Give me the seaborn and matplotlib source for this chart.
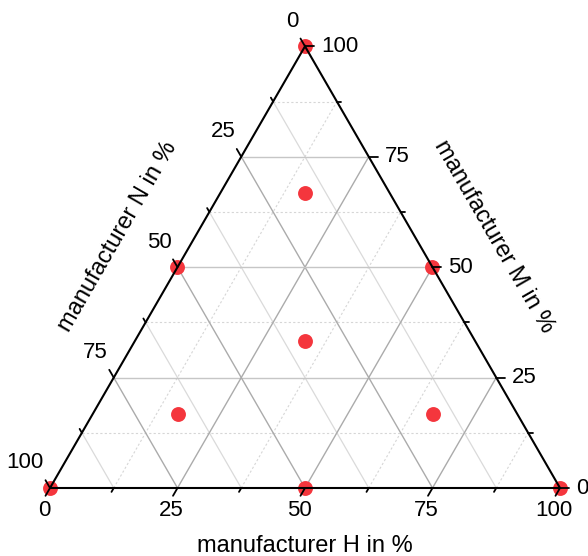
import numpy as np
import pandas as pd
import seaborn as sns
import matplotlib.pyplot as plt

# mixture design points, percent of each manufacturer
manufacturer_h = [0, 16.7, 0, 50, 33.3, 16.7, 66.7, 0, 50, 100]
manufacturer_m = [100, 66.7, 50, 50, 33.3, 16.7, 16.7, 0, 0, 0]
manufacturer_n = [0, 16.7, 50, 0, 33.3, 66.7, 16.7, 100, 50, 0]

major_ticks = [0, 25, 50, 75, 100]
minor_ticks = [12.5, 37.5, 62.5, 87.5]
tick_labels = ['0', '25', '50', '75', '100']

h_title = 'manufacturer H in %'
m_title = 'manufacturer M in %'
n_title = 'manufacturer N in %'

SQ = np.sqrt(3) / 2
PX = 1 / 510  # one pixel in data units


def to_xy(h, m):
    h = np.asarray(h, dtype=float) / 100
    m = np.asarray(m, dtype=float) / 100
    return h + m / 2, m * SQ


sns.set_style('white', rc={'text.color': 'black'})
plt.rcParams['font.family'] = ['Liberation Sans', 'DejaVu Sans']

fig = plt.figure(figsize=(5.88, 5.56), dpi=100)
ax = fig.add_axes([0, 0, 1, 1])
ax.set_xlim(-50 * PX, 538 * PX)
ax.set_ylim(-68 * PX, 488 * PX)
ax.axis('off')

# grid lines
def grid_line(v, kind, **kw):
    if kind == 'm':
        p0, p1 = to_xy(0, v), to_xy(100 - v, v)
    elif kind == 'h':
        p0, p1 = to_xy(v, 0), to_xy(v, 100 - v)
    else:
        p0, p1 = to_xy(100 - v, 0), to_xy(0, 100 - v)
    ax.plot([p0[0], p1[0]], [p0[1], p1[1]], zorder=1, **kw)

for v in minor_ticks:
    grid_line(v, 'm', color='#d6d6d6', lw=0.8, ls=(0, (2, 2)))
    grid_line(v, 'h', color='#d6d6d6', lw=0.8, ls=(0, (2, 2)))
    grid_line(v, 'n', color='#dadada', lw=0.9)
for v in major_ticks[1:-1]:
    grid_line(v, 'm', color='#c6c6c6', lw=1.0)
    grid_line(v, 'h', color='#ababab', lw=1.0)
    grid_line(v, 'n', color='#ababab', lw=1.0)

# data points
df = pd.DataFrame({'H': manufacturer_h, 'M': manufacturer_m, 'N': manufacturer_n})
df['x'], df['y'] = to_xy(df['H'], df['M'])
sns.scatterplot(data=df, x='x', y='y', s=115, color='#f4363d', linewidth=0,
                ax=ax, zorder=3, clip_on=False, legend=False)
ax.set_xlabel('')
ax.set_ylabel('')

# triangle frame
corners = np.array([to_xy(0, 0), to_xy(100, 0), to_xy(0, 100), to_xy(0, 0)])
ax.plot(corners[:, 0], corners[:, 1], color='black', lw=1.5, zorder=4,
        solid_joinstyle='miter', clip_on=False)

# ticks
dirs = {'h': (-0.5, -SQ), 'm': (1.0, 0.0), 'n': (-0.5, SQ)}

def tick_pos(v, kind):
    if kind == 'h':
        return to_xy(v, 0)
    if kind == 'm':
        return to_xy(100 - v, v)
    return to_xy(0, 100 - v)

for kind, (dx, dy) in dirs.items():
    for v in major_ticks + minor_ticks:
        L = (9 if v in major_ticks else 4.5) * PX
        x0, y0 = tick_pos(v, kind)
        ax.plot([x0, x0 + dx * L], [y0, y0 + dy * L], color='black', lw=1.3,
                zorder=4, clip_on=False)

fs_tick = 16
for v, lab in zip(major_ticks, tick_labels):
    x0, y0 = tick_pos(v, 'h')
    ax.text(x0 - 6 * PX, y0 - 22 * PX, lab, ha='center', va='center', fontsize=fs_tick)
    x0, y0 = tick_pos(v, 'm')
    ax.text(x0 + 16 * PX, y0, lab, ha='left', va='center', fontsize=fs_tick)
    x0, y0 = tick_pos(v, 'n')
    ax.text(x0 - 6 * PX, y0 + 25 * PX, lab, ha='right', va='center', fontsize=fs_tick)

# axis titles
fs_title = 17
bx, by = to_xy(50, 0)
ax.text(bx, by - 58 * PX, h_title, ha='center', va='center', fontsize=fs_title)
rx, ry = to_xy(50, 50)
ax.text(rx + 0.866 * 69 * PX - 0.5 * -4 * PX, ry + 0.5 * 69 * PX + SQ * -4 * PX, m_title,
        ha='center', va='center', rotation=-60, rotation_mode='anchor', fontsize=fs_title)
lx, ly = to_xy(0, 50)
ax.text(lx - 0.866 * 67 * PX + 0.5 * -4 * PX, ly + 0.5 * 67 * PX + SQ * -4 * PX, n_title,
        ha='center', va='center', rotation=60, rotation_mode='anchor', fontsize=fs_title)

fig.savefig('out.png', dpi=100)
